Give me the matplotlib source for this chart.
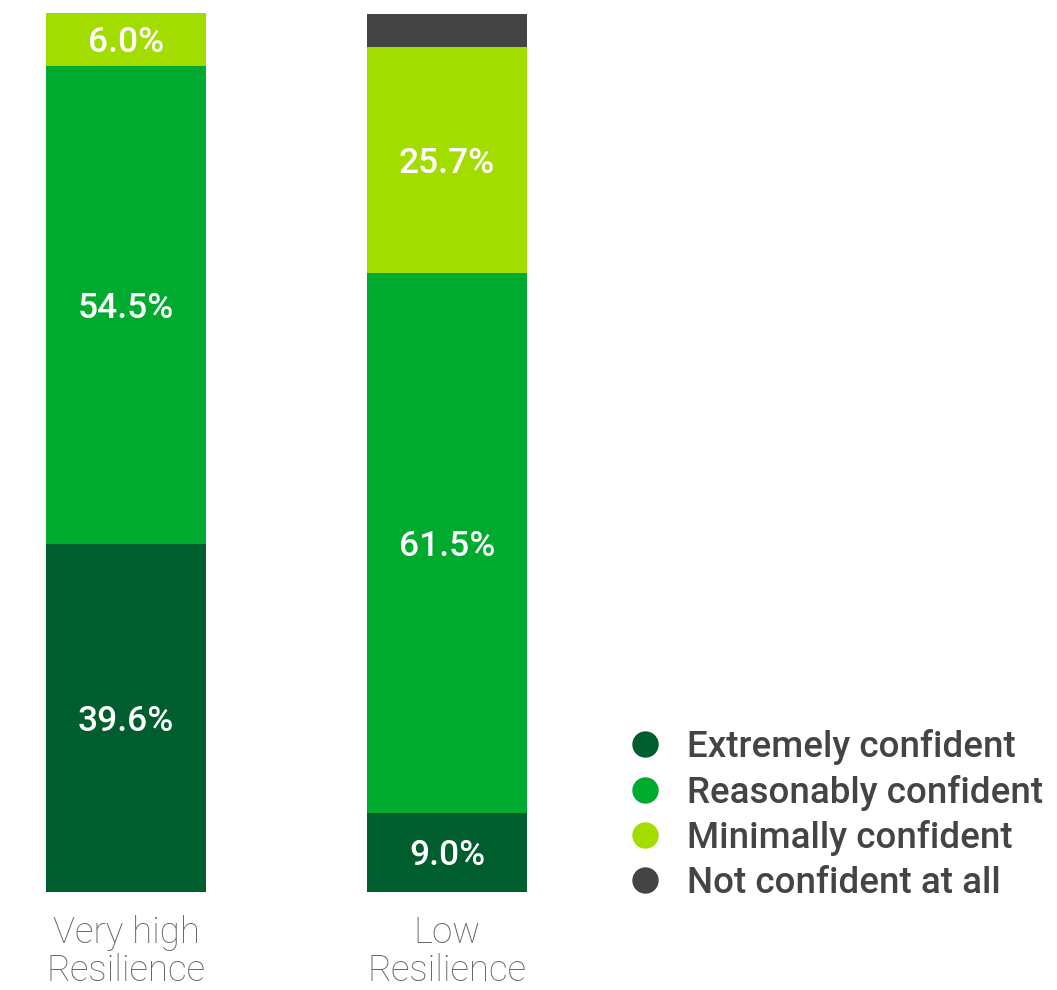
import matplotlib.pyplot as plt
from matplotlib.lines import Line2D

groups = ["Very high\nResilience", "Low\nResilience"]
series = ["Extremely confident", "Reasonably confident", "Minimally confident", "Not confident at all"]
extremely = [39.6, 9.0]
reasonably = [54.5, 61.5]
minimally = [6.0, 25.7]
not_at_all = [0.0, 3.8]
colors = ["#005e2e", "#00aa2f", "#a3dd00", "#444444"]

plt.rcParams["font.family"] = ["Roboto", "DejaVu Sans"]

fig = plt.figure(figsize=(10.57, 9.9), dpi=100)
ax = fig.add_axes([0, 98 / 990, 1, 879 / 990])

x = [0, 1]
width = 160 / 321
bottom = [0, 0]
for vals, col in zip([extremely, reasonably, minimally, not_at_all], colors):
    ax.bar(x, vals, width, bottom=bottom, color=col, linewidth=0)
    for xi, v, b in zip(x, vals, bottom):
        if v >= 5:
            ax.text(xi, b + v / 2 - 0.4, f"{v:.1f}%", ha="center", va="center",
                    color="white", fontsize=25.5, fontweight="medium")
    bottom = [b + v for b, v in zip(bottom, vals)]

ax.set_xlim(-126 / 321, (1057 - 126) / 321)
ax.set_ylim(0, 100.1)
ax.axis("off")

for xi, g in zip(x, groups):
    ax.text(xi, -2.6, g, ha="center", va="top", color="#666666",
            fontsize=26.5, fontweight="light", linespacing=1.08)

handles = [Line2D([], [], marker="o", linestyle="none", markersize=19,
                  markerfacecolor=c, markeredgewidth=0) for c in colors]
leg = fig.legend(handles, series, loc="upper left", bbox_to_anchor=(623 / 1057, 1 - 729 / 990),
                 frameon=False, fontsize=26.5, handletextpad=0.54, labelspacing=0.26,
                 handlelength=1.2, borderpad=0, borderaxespad=0)
for t in leg.get_texts():
    t.set_color("#444444")
    t.set_fontweight("medium")

fig.savefig("out.png", dpi=100)
